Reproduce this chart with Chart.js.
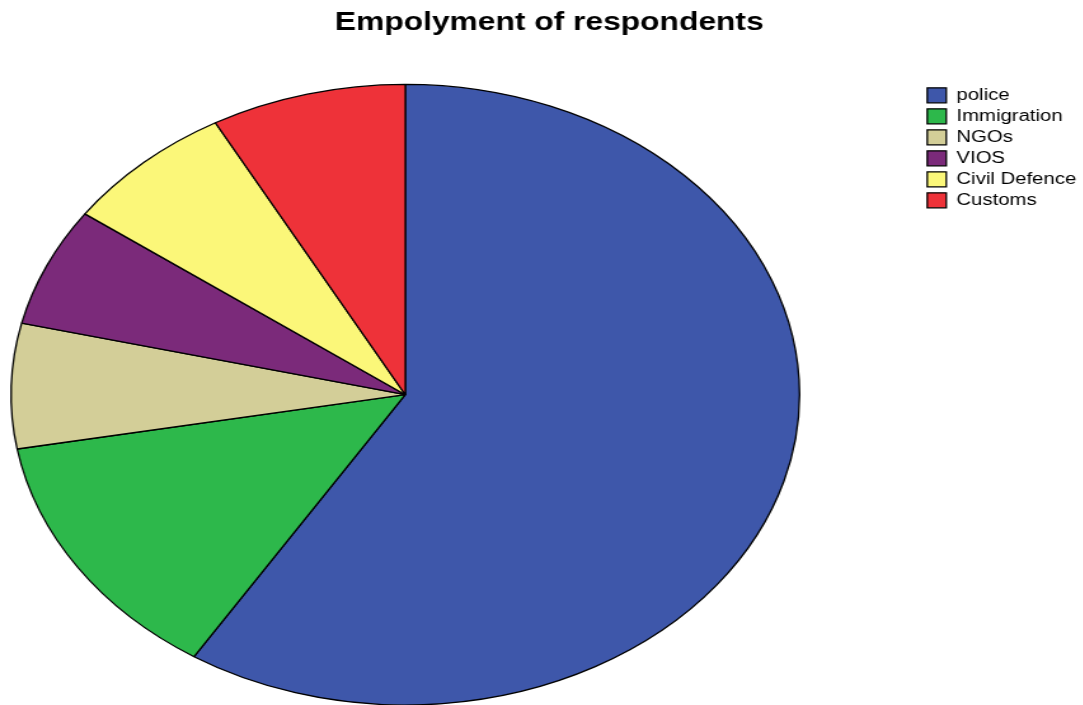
<!DOCTYPE html>
<html>
<head>
<meta charset="utf-8">
<script src="https://cdn.jsdelivr.net/npm/chart.js@4/dist/chart.umd.min.js"></script>
<style>
  html, body { margin: 0; padding: 0; background: #ffffff; overflow: hidden; }
  #wrap { width: 853px; height: 705px; transform: scaleX(1.27053); transform-origin: 0 0; }
</style>
</head>
<body>
<div id="wrap"><canvas id="c" width="853" height="705"></canvas></div>
<script>
// Data (share of respondents, %)
const chartTitle = "Empolyment of respondents";
const categories = ["police", "Immigration", "NGOs", "VIOS", "Civil Defence", "Customs"];
const shares = [59.0, 13.2, 6.5, 6.2, 7.1, 8.0];
const sliceColors = ["#3E57AA", "#2DB84B", "#D3CE98", "#7B2A7A", "#FBF779", "#EE3239"];

const FONT = 'Arial, "Liberation Sans", sans-serif';

// Fixes the placement of the pie, legend and title (logical canvas coords)
const placement = {
  id: 'placement',
  afterLayout(chart) {
    const cx = 319.0, cy = 394.7, half = 311;
    Object.assign(chart.chartArea, {
      left: cx - half, right: cx + half, top: cy - half, bottom: cy + half,
      width: 2 * half, height: 2 * half
    });
    const lg = chart.legend;
    if (lg) {
      lg.left = 724.8; lg.right = 853;
      lg.top = 82.3; lg.bottom = 82.3 + 150;
      lg.width = lg.right - lg.left; lg.height = lg.bottom - lg.top;
    }
    const tb = chart.titleBlock;
    if (tb) {
      tb.left = 11.6; tb.right = 853; tb.top = 0; tb.bottom = 40;
      tb.width = tb.right - tb.left; tb.height = 40;
    }
  }
};

new Chart(document.getElementById('c'), {
  type: 'pie',
  data: {
    labels: categories,
    datasets: [{
      data: shares,
      backgroundColor: sliceColors,
      borderColor: '#000000',
      borderWidth: 1.3,
      radius: 310.3
    }]
  },
  options: {
    responsive: false,
    devicePixelRatio: 1,
    animation: false,
    events: [],
    layout: { padding: 0 },
    plugins: {
      title: {
        display: true,
        text: chartTitle,
        color: '#000000',
        font: { family: FONT, size: 25, weight: 'bold', lineHeight: 1.2 },
        padding: { top: 8, bottom: 2 }
      },
      legend: {
        display: true,
        position: 'right',
        align: 'start',
        labels: {
          color: '#000000',
          font: { family: FONT, size: 16 },
          boxWidth: 15,
          boxHeight: 15,
          padding: 5
        }
      },
      tooltip: { enabled: false }
    }
  },
  plugins: [placement]
});
</script>
</body>
</html>
